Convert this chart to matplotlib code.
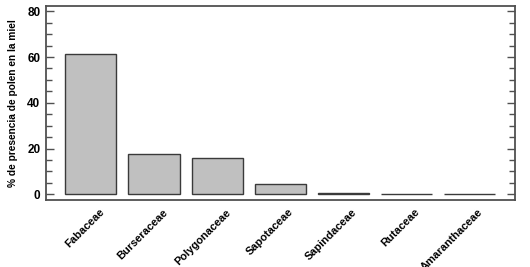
import matplotlib.pyplot as plt
from matplotlib.ticker import MultipleLocator
from matplotlib.transforms import ScaledTranslation

plt.rcParams['font.family'] = ['Liberation Sans', 'DejaVu Sans']

familias = ["Fabaceae", "Burseraceae", "Polygonaceae", "Sapotaceae",
            "Sapindaceae", "Rutaceae", "Amaranthaceae"]
porcentaje = [61.4, 17.6, 15.7, 4.5, 0.5, 0.1, 0.1]

fig = plt.figure(figsize=(5.3, 2.67), dpi=100)
ax = fig.add_axes([0.0868, 0.251, 0.885, 0.7265])

ax.bar(range(len(familias)), porcentaje, width=0.81, color="#c0c0c0",
       edgecolor="#3a3a3a", linewidth=1.0)

ax.set_xlim(-0.71, 6.72)
ax.set_ylim(-2.5, 82.3)
ax.yaxis.set_major_locator(MultipleLocator(20))
ax.yaxis.set_minor_locator(MultipleLocator(5))
ax.tick_params(axis="y", which="both", direction="in", right=True,
               color="#505050", width=1.0, labelsize=8.5, pad=4)
ax.tick_params(axis="y", which="major", length=6)
ax.tick_params(axis="y", which="minor", length=4)
for lab in ax.get_yticklabels():
    lab.set_fontweight("bold")

ax.set_xticks(range(len(familias)))
ax.set_xticklabels(familias, rotation=45, ha="right", va="top",
                   rotation_mode="anchor", fontsize=7.9, fontweight="bold")
ax.tick_params(axis="x", length=0, pad=5)
shift = ScaledTranslation(6 / 72, 0, fig.dpi_scale_trans)
for lab in ax.get_xticklabels():
    lab.set_transform(lab.get_transform() + shift)

for s in ax.spines.values():
    s.set_color("#505050")
    s.set_linewidth(1.3)

ax.set_ylabel("% de presencia de polen en la miel", fontsize=7.3,
              fontweight="bold", labelpad=7)

fig.savefig("out.png", dpi=100)
